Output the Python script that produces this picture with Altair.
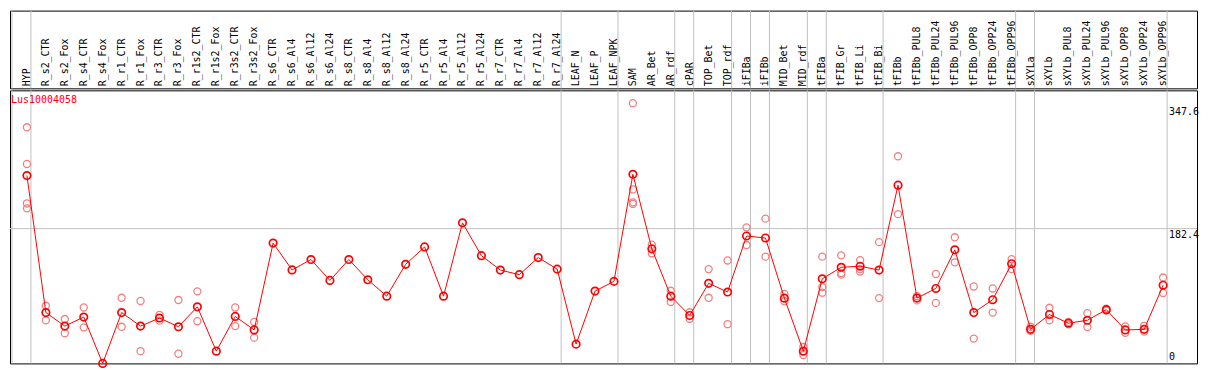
import altair as alt
import pandas as pd

categories = [
    "HYP", "R_s2_CTR", "R_s2_Fox", "R_s4_CTR", "R_s4_Fox", "R_r1_CTR", "R_r1_Fox",
    "R_r3_CTR", "R_r3_Fox", "R_r1s2_CTR", "R_r1s2_Fox", "R_r3s2_CTR", "R_r3s2_Fox",
    "R_s6_CTR", "R_s6_Al4", "R_s6_Al12", "R_s6_Al24", "R_s8_CTR", "R_s8_Al4",
    "R_s8_Al12", "R_s8_Al24", "R_r5_CTR", "R_r5_Al4", "R_r5_Al12", "R_r5_Al24",
    "R_r7_CTR", "R_r7_Al4", "R_r7_Al12", "R_r7_Al24", "LEAF_N", "LEAF_P", "LEAF_NPK",
    "SAM", "AR_Bet", "AR_rdf", "cPAR", "TOP_Bet", "TOP_rdf", "iFIBa", "iFIBb",
    "MID_Bet", "MID_rdf", "tFIBa", "tFIB_Gr", "tFIB_Li", "tFIB_Bi", "tFIBb",
    "tFIBb_PUL8", "tFIBb_PUL24", "tFIBb_PUL96", "tFIBb_OPP8", "tFIBb_OPP24",
    "tFIBb_OPP96", "sXYLa", "sXYLb", "sXYLb_PUL8", "sXYLb_PUL24", "sXYLb_PUL96",
    "sXYLb_OPP8", "sXYLb_OPP24", "sXYLb_OPP96",
]

means = [
    254.2, 68.8, 50.5, 62.7, 0.0, 68.8, 50.5,
    61.4, 49.6, 76.6, 16.6, 63.6, 45.3,
    162.8, 126.5, 140.6, 112.3, 140.6, 113.2,
    91.0, 134.1, 157.6, 91.0, 190.2, 145.8,
    126.3, 120.1, 143.2, 127.6, 26.1, 97.9, 111.0,
    255.9, 155.0, 91.0, 64.9, 108.4, 96.6, 172.4, 169.7,
    88.3, 16.6, 114.5, 130.1, 131.5, 126.3, 241.2,
    88.4, 101.4, 153.7, 68.8, 86.2,
    134.9, 46.1, 66.2, 54.4, 58.4, 72.7,
    45.3, 46.1, 105.8,
]

rep_categories = [
    "HYP", "HYP", "HYP", "HYP",
    "R_s2_CTR", "R_s2_CTR", "R_s2_Fox", "R_s2_Fox", "R_s4_CTR", "R_s4_CTR",
    "R_r1_CTR", "R_r1_CTR", "R_r1_Fox", "R_r1_Fox", "R_r3_CTR", "R_r3_CTR",
    "R_r3_Fox", "R_r3_Fox", "R_r1s2_CTR", "R_r1s2_CTR", "R_r3s2_CTR", "R_r3s2_CTR",
    "R_r3s2_Fox", "R_r3s2_Fox",
    "SAM", "SAM", "SAM", "SAM",
    "AR_Bet", "AR_Bet", "AR_rdf", "AR_rdf", "cPAR", "cPAR", "TOP_Bet", "TOP_Bet",
    "TOP_rdf", "TOP_rdf", "iFIBa", "iFIBa", "iFIBb", "iFIBb", "MID_Bet", "MID_Bet",
    "MID_rdf", "MID_rdf", "tFIBa", "tFIBa", "tFIBa", "tFIB_Gr", "tFIB_Gr", "tFIB_Gr",
    "tFIB_Li", "tFIB_Li", "tFIB_Li", "tFIB_Bi", "tFIB_Bi", "tFIBb", "tFIBb",
    "tFIBb_PUL8", "tFIBb_PUL8", "tFIBb_PUL24", "tFIBb_PUL24", "tFIBb_PUL96", "tFIBb_PUL96",
    "tFIBb_OPP8", "tFIBb_OPP8", "tFIBb_OPP24", "tFIBb_OPP24", "tFIBb_OPP96", "tFIBb_OPP96",
    "sXYLa", "sXYLa", "sXYLb", "sXYLb", "sXYLb_PUL8", "sXYLb_PUL8",
    "sXYLb_PUL24", "sXYLb_PUL24", "sXYLb_PUL96", "sXYLb_PUL96",
    "sXYLb_OPP8", "sXYLb_OPP8", "sXYLb_OPP24", "sXYLb_OPP24", "sXYLb_OPP96", "sXYLb_OPP96",
]

rep_values = [
    319.5, 269.9, 216.4, 209.8,
    78.0, 58.4, 60.1, 40.9, 75.7, 48.7,
    88.8, 49.6, 84.5, 16.6, 65.7, 57.9,
    85.8, 13.1, 97.5, 57.1, 75.7, 50.5,
    56.1, 34.9,
    352.1, 235.4, 218.0, 215.8,
    160.6, 148.8, 98.3, 83.2, 69.2, 60.5, 127.6, 88.8,
    139.3, 53.1, 184.1, 160.2, 195.9, 144.5, 94.0, 84.0,
    22.2, 11.4, 144.5, 103.2, 95.7, 146.2, 122.3, 120.1,
    139.7, 124.4, 127.6, 164.1, 88.4, 280.3, 202.0,
    85.3, 91.0, 121.0, 81.9, 170.7, 136.8,
    104.1, 33.6, 101.4, 68.8, 141.0, 127.6,
    49.6, 44.0, 75.3, 58.4, 56.0, 52.8,
    67.9, 49.2, 74.0, 71.5,
    50.0, 41.4, 50.9, 43.1, 116.2, 95.3,
]

group_ends = [
    "HYP", "R_r7_Al24", "LEAF_NPK", "AR_rdf", "cPAR", "TOP_rdf", "iFIBa", "iFIBb",
    "MID_rdf", "tFIBa", "tFIB_Bi", "tFIBb_OPP96", "sXYLa", "sXYLb_OPP96",
]

y_label_values = [347.6, 182.4]
y_zero_label = [0]
y_grid_values = [182.4]
gene_title = "Lus10004058"

# ---------------------------------------------------------------- layout
MONO = "DejaVu Sans Mono"
W = 1191
HEADER_H = 78
PLOT_H = 274
STEP = 19.0
X0 = 17.0
RED = "#ff0000"
REP = "#f08080"
GRID = "#c0c0c0"

idx = {c: i for i, c in enumerate(categories)}
df_mean = pd.DataFrame({"cat": categories, "i": list(range(len(categories))), "value": means})
df_rep = pd.DataFrame({
    "cat": rep_categories,
    "i": [idx[c] for c in rep_categories],
    "value": rep_values,
})
df_grid = pd.DataFrame({"b": [-1 + 4 / STEP] + [idx[c] + 4 / STEP for c in group_ends]})

xscale = alt.Scale(domain=[-X0 / STEP, (W - X0) / STEP], nice=False, zero=False)
yscale = alt.Scale(domain=[0, 369.5], nice=False, zero=False)

# header panel
header_grid = alt.Chart(df_grid).mark_rule(color=GRID, strokeWidth=1).encode(
    x=alt.X("b:Q", scale=xscale, axis=None)
)
header_text = alt.Chart(df_mean).mark_text(
    angle=270, align="left", baseline="middle", font=MONO, fontSize=10, color="black"
).encode(
    x=alt.X("i:Q", scale=xscale, axis=None),
    y=alt.value(HEADER_H - 2),
    text="cat:N",
)
header = alt.layer(header_grid, header_text).properties(width=W, height=HEADER_H)

# plot panel
grid_v = alt.Chart(df_grid).mark_rule(color=GRID, strokeWidth=1).encode(
    x=alt.X("b:Q", scale=xscale, axis=None)
)
grid_h = alt.Chart(pd.DataFrame({"v": y_grid_values})).mark_rule(color=GRID, strokeWidth=1).encode(
    y=alt.Y("v:Q", scale=yscale, axis=None)
)
reps = alt.Chart(df_rep).mark_point(
    shape="circle", filled=False, color=REP, size=50, strokeWidth=1.3, opacity=1
).encode(
    x=alt.X("i:Q", scale=xscale, axis=None),
    y=alt.Y("value:Q", scale=yscale, axis=None),
)
line = alt.Chart(df_mean).mark_line(color=RED, strokeWidth=1).encode(
    x=alt.X("i:Q", scale=xscale, axis=None),
    y=alt.Y("value:Q", scale=yscale, axis=None),
)
pts = alt.Chart(df_mean).mark_point(
    shape="circle", filled=False, color=RED, size=56, strokeWidth=1.7, opacity=1
).encode(
    x=alt.X("i:Q", scale=xscale, axis=None),
    y=alt.Y("value:Q", scale=yscale, axis=None),
)
ylab = alt.Chart(pd.DataFrame({"v": y_label_values})).mark_text(
    align="left", baseline="top", font=MONO, fontSize=10, color="black", dy=1
).encode(
    x=alt.value(W - 28),
    y=alt.Y("v:Q", scale=yscale, axis=None),
    text=alt.Text("v:Q", format=".1f"),
)
ylab0 = alt.Chart(pd.DataFrame({"v": y_zero_label})).mark_text(
    align="left", baseline="bottom", font=MONO, fontSize=10, color="black", dy=-1
).encode(
    x=alt.value(W - 28),
    y=alt.Y("v:Q", scale=yscale, axis=None),
    text=alt.Text("v:Q", format="d"),
)
title = alt.Chart(pd.DataFrame({"t": [gene_title]})).mark_text(
    align="left", baseline="middle", font=MONO, fontSize=10, color=RED
).encode(
    x=alt.value(1),
    y=alt.value(10),
    text="t:N",
)
plot = alt.layer(grid_v, grid_h, reps, line, pts, ylab, ylab0, title).properties(
    width=W, height=PLOT_H
)

chart = (
    alt.vconcat(header, plot, spacing=0)
    .properties(padding=1, background="white")
    .configure_view(stroke="black", strokeWidth=1)
)

chart.save("out.html", embed_options={"renderer": "svg", "actions": False})
